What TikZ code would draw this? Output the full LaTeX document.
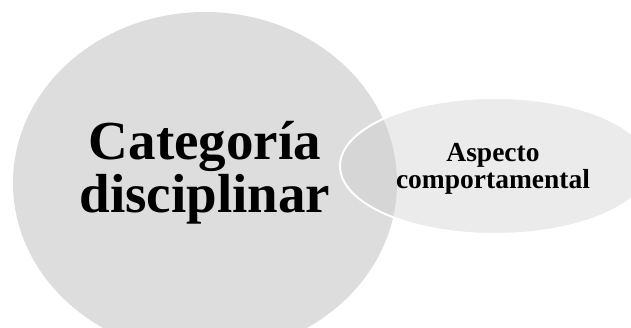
\documentclass[tikz,border=0pt]{standalone}
\usepackage{fontspec}
\setmainfont{Liberation Serif}
\usetikzlibrary{shapes.geometric}
\definecolor{bigfill}{RGB}{221,221,221}
\definecolor{smallfill}{RGB}{206,206,206}
\tikzset{
  bubble/.style={ellipse, inner sep=0pt, draw=none},
  bigtext/.style={font=\bfseries\fontsize{55}{53}\selectfont, align=center, inner sep=0pt, anchor=base},
  smalltext/.style={font=\bfseries\fontsize{27.5}{27}\selectfont, align=center, inner sep=0pt, anchor=base},
}
\begin{document}
\begin{tikzpicture}[x=1pt,y=-1pt]
\useasboundingbox (0,0) rectangle (631,328);
\clip (0,0) rectangle (631,328);
\node[bubble, fill=bigfill, minimum width=384pt, minimum height=342pt] (big) at (205,183) {};
\node[bubble, fill=smallfill, fill opacity=0.41, draw=white, line width=2pt, minimum width=310pt, minimum height=136pt] (small) at (495,166) {};
\node[bigtext] (bigt) at (205,213) {Categoría\\disciplinar};
\node[smalltext] (smallt) at (493,189) {Aspecto\\comportamental};
\end{tikzpicture}
\end{document}
